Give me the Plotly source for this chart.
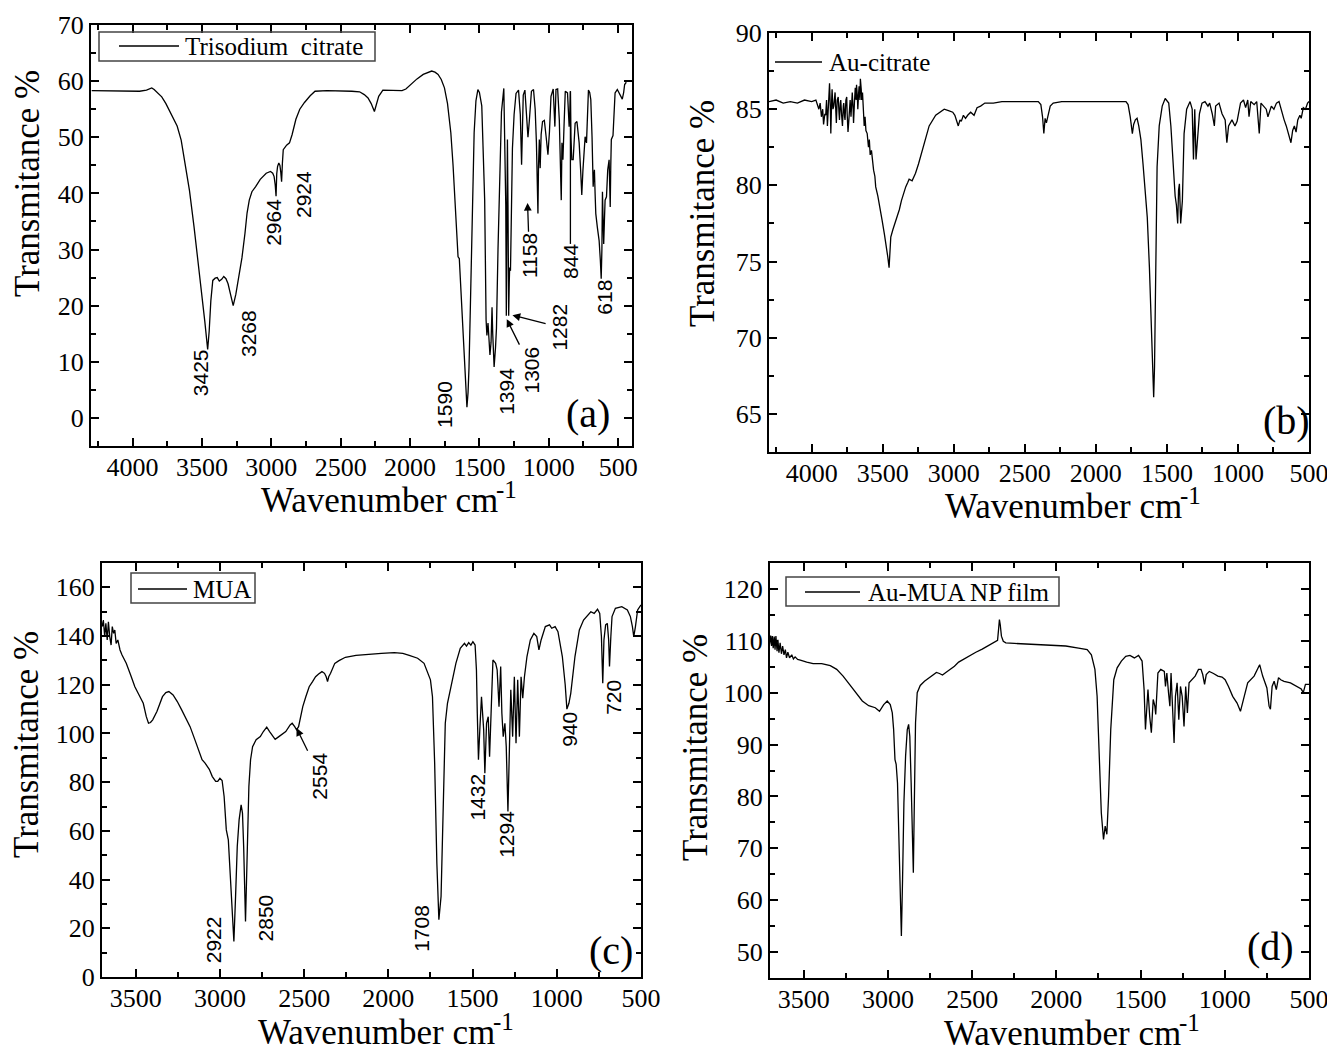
import plotly.graph_objects as go

# ---------------- data ----------------
# (a) trisodium citrate
wn_a = [4295, 4200, 4100, 4000, 3950, 3900, 3875, 3862, 3845, 3830, 3790, 3760, 3740, 3700, 3679, 3650, 3618, 3590,
        3557, 3530, 3511, 3480, 3459, 3448, 3436, 3422, 3405, 3390, 3375, 3358, 3343, 3327, 3312, 3292, 3275, 3256,
        3237, 3212, 3190, 3175, 3159, 3140, 3113, 3080, 3037, 3006, 2990, 2980, 2972, 2966, 2961, 2955, 2946, 2938,
        2932, 2926, 2920, 2914, 2890, 2869, 2850, 2823, 2795, 2761, 2720, 2685, 2600, 2500, 2420, 2364, 2330, 2303,
        2280, 2257, 2245, 2226, 2196, 2120, 2058, 2030, 1997, 1950, 1905, 1870, 1844, 1820, 1798, 1775, 1752, 1730,
        1706, 1690, 1676, 1665, 1654, 1645, 1630, 1618, 1609, 1598, 1590, 1582, 1575, 1565, 1554, 1545, 1538, 1525,
        1511, 1500, 1483, 1474, 1462, 1452, 1446, 1438, 1424, 1416, 1409, 1404, 1394, 1384, 1377, 1366, 1356, 1341,
        1324, 1316, 1310, 1306, 1302, 1298, 1294, 1289, 1285, 1282, 1276, 1270, 1262, 1250, 1236, 1218, 1205, 1196,
        1190, 1184, 1172, 1160, 1150, 1140, 1125, 1110, 1098, 1089, 1082, 1078, 1074, 1068, 1062, 1055, 1045, 1032,
        1019, 1006, 995, 984, 968, 956, 948, 936, 924, 914, 910, 905, 898, 890, 881, 865, 853, 848, 844, 840, 834,
        824, 816, 810, 797, 787, 781, 770, 762, 754, 745, 738, 728, 720, 714, 705, 697, 688, 680, 676, 671, 666,
        661, 650, 637, 628, 622, 617, 613, 608, 604, 599, 594, 584, 575, 565, 560, 557, 553, 549, 537, 530, 522,
        506, 495, 486, 478, 470, 460, 453, 441]
tr_a = [58.3, 58.3, 58.2, 58.3, 58.2, 58.4, 58.6, 58.8, 58.5, 58.1, 57.2, 56.0, 55.0, 53.2, 52.0, 49.5, 44.8, 40.5,
        34.0, 28.5, 23.9, 17.3, 12.2, 15.5, 20.9, 24.5, 24.9, 25.0, 24.4, 24.7, 25.2, 24.8, 23.9, 21.5, 20.0, 22.0,
        24.5, 28.5, 32.9, 36.5, 38.8, 40.3, 41.2, 42.5, 43.6, 43.9, 43.6, 43.0, 41.5, 39.5, 43.5, 44.8, 45.4, 45.0,
        43.8, 42.1, 45.5, 47.8, 48.6, 49.0, 50.5, 53.2, 55.0, 56.2, 57.4, 58.2, 58.3, 58.3, 58.2, 58.1, 57.6, 57.0,
        56.0, 54.6, 55.5, 57.3, 58.4, 58.3, 58.3, 58.6, 59.4, 60.4, 61.2, 61.6, 61.8, 61.6, 61.2, 60.3, 58.8, 56.0,
        50.8, 45.0, 38.8, 33.0, 28.7, 28.4, 20.9, 14.0, 9.0, 4.0, 1.9, 4.5, 9.0, 20.0, 32.9, 43.0, 50.8, 56.5,
        58.5, 58.0, 55.6, 48.4, 38.8, 17.5, 14.7, 16.9, 11.2, 13.5, 19.7, 15.0, 9.1, 12.5, 16.0, 30.0, 40.0, 54.5,
        58.7, 50.0, 38.0, 18.2, 30.0, 49.6, 38.0, 18.2, 24.0, 26.8, 26.2, 38.0, 48.0, 54.0, 57.8, 58.4, 54.0, 45.1,
        52.0, 57.5, 58.4, 53.5, 50.0, 53.0, 58.2, 58.5, 55.0, 49.0, 40.0, 36.4, 44.8, 49.6, 44.5, 50.5, 52.8, 53.0,
        50.1, 46.9, 51.0, 57.3, 58.6, 51.9, 58.5, 58.6, 53.1, 45.0, 38.8, 49.0, 46.0, 52.0, 58.2, 57.9, 51.9, 54.5,
        58.2, 50.0, 46.0, 46.0, 49.0, 52.5, 52.8, 51.0, 49.0, 44.0, 39.7, 44.0, 49.0, 50.1, 49.0, 55.0, 58.4, 58.0,
        56.7, 50.0, 41.2, 43.0, 44.2, 40.0, 36.4, 34.0, 31.6, 28.0, 24.8, 30.0, 40.3, 35.0, 31.0, 35.0, 38.8, 39.4,
        44.2, 46.0, 42.0, 37.6, 45.0, 49.6, 50.3, 54.0, 57.9, 58.5, 58.0, 57.6, 57.0, 56.8, 58.0, 59.4, 59.8]

# (b) Au-citrate
wn_b = [4300, 4250, 4200, 4150, 4100, 4050, 4000, 3970, 3949, 3940, 3931, 3922, 3916, 3907, 3901, 3895, 3889, 3880,
        3874, 3868, 3865, 3859, 3856, 3850, 3844, 3838, 3835, 3829, 3826, 3820, 3813, 3807, 3804, 3798, 3795, 3789,
        3783, 3777, 3774, 3768, 3765, 3759, 3753, 3750, 3744, 3738, 3735, 3729, 3723, 3717, 3714, 3708, 3705, 3699,
        3693, 3687, 3684, 3678, 3675, 3669, 3666, 3660, 3657, 3651, 3648, 3642, 3639, 3633, 3630, 3624, 3618, 3609,
        3600, 3594, 3588, 3579, 3570, 3564, 3555, 3549, 3534, 3519, 3504, 3488, 3473, 3464, 3455, 3449, 3443, 3428,
        3413, 3398, 3383, 3368, 3353, 3338, 3323, 3314, 3293, 3269, 3248, 3233, 3203, 3173, 3127, 3097, 3067, 3037,
        3007, 2992, 2977, 2968, 2956, 2947, 2932, 2917, 2902, 2881, 2857, 2836, 2811, 2781, 2721, 2661, 2571, 2480,
        2405, 2387, 2375, 2366, 2357, 2348, 2336, 2321, 2300, 2240, 2119, 1999, 1879, 1788, 1773, 1758, 1743, 1734,
        1722, 1710, 1698, 1683, 1668, 1653, 1638, 1623, 1608, 1599, 1593, 1587, 1581, 1575, 1569, 1554, 1533, 1512,
        1487, 1472, 1457, 1442, 1433, 1424, 1418, 1412, 1403, 1391, 1379, 1361, 1337, 1322, 1313, 1304, 1295, 1283,
        1271, 1253, 1232, 1211, 1199, 1181, 1166, 1157, 1133, 1112, 1090, 1078, 1066, 1042, 1021, 1006, 982, 961,
        946, 931, 922, 910, 886, 868, 850, 838, 820, 801, 789, 765, 747, 729, 711, 690, 675, 660, 645, 627, 615,
        603, 591, 579, 564, 555, 540, 525, 510, 500]
tr_b = [85.5, 85.6, 85.4, 85.5, 85.4, 85.6, 85.5, 85.6, 85.0, 85.4, 84.5, 85.0, 84.0, 84.7, 84.6, 85.6, 83.9, 85.2,
        86.7, 85.0, 83.4, 85.6, 86.3, 85.0, 85.2, 85.8, 86.1, 84.7, 84.1, 85.6, 85.8, 84.7, 84.3, 85.4, 85.6, 84.6,
        83.9, 85.2, 85.4, 84.5, 84.3, 85.6, 85.8, 84.7, 83.5, 84.3, 85.2, 85.6, 84.5, 85.4, 86.1, 85.0, 84.1, 85.4,
        86.4, 85.6, 86.6, 85.8, 85.0, 86.1, 86.5, 85.6, 87.0, 86.3, 85.6, 86.1, 85.2, 84.3, 83.9, 84.5, 83.6, 83.4,
        82.5, 83.0, 82.0, 82.3, 81.2, 81.0, 80.6, 79.9, 79.3, 78.6, 77.7, 76.8, 76.0, 75.3, 74.6, 75.5, 76.6, 77.1,
        77.5, 77.9, 78.4, 79.0, 79.5, 79.9, 80.2, 80.4, 80.3, 80.8, 81.4, 81.9, 83.0, 83.9, 84.6, 84.8, 85.0, 84.9,
        84.8, 84.6, 84.2, 83.9, 84.3, 84.2, 84.6, 84.4, 84.6, 84.8, 84.6, 85.1, 85.2, 85.4, 85.4, 85.5, 85.5, 85.5,
        85.5, 85.3, 84.5, 83.4, 84.4, 84.1, 84.6, 85.2, 85.4, 85.5, 85.5, 85.5, 85.5, 85.5, 85.3, 84.5, 83.4, 84.0,
        84.3, 84.4, 83.9, 83.0, 81.4, 79.9, 77.9, 74.6, 70.3, 67.6, 66.1, 68.1, 72.5, 77.3, 81.2, 83.9, 85.2, 85.7,
        85.4, 83.9, 81.2, 79.3, 78.7, 77.5, 79.7, 80.1, 77.5, 79.0, 83.4, 85.0, 85.5, 85.0, 81.7, 85.0, 81.7, 83.2,
        84.7, 85.4, 85.5, 85.2, 85.4, 84.7, 83.9, 85.2, 85.4, 84.7, 84.3, 82.8, 83.9, 84.3, 83.9, 84.2, 85.4, 85.6,
        85.1, 85.6, 84.5, 85.5, 85.3, 85.5, 83.4, 85.4, 85.2, 85.0, 84.5, 85.2, 85.0, 85.4, 85.5, 84.7, 84.3, 83.9,
        83.4, 82.8, 83.6, 83.9, 83.5, 84.3, 84.6, 84.4, 85.1, 85.0, 85.4, 85.5]

# (c) MUA
wn_c = [3699, 3692, 3684, 3677, 3669, 3662, 3654, 3646, 3639, 3631, 3624, 3616, 3606, 3593, 3581, 3556, 3530, 3505,
        3480, 3455, 3437, 3424, 3412, 3399, 3374, 3341, 3321, 3303, 3278, 3253, 3227, 3202, 3177, 3152, 3126, 3106,
        3088, 3063, 3045, 3025, 3013, 3000, 2987, 2975, 2962, 2950, 2937, 2927, 2917, 2907, 2897, 2886, 2874, 2866,
        2859, 2848, 2838, 2828, 2818, 2806, 2785, 2760, 2742, 2722, 2705, 2684, 2672, 2654, 2634, 2609, 2583, 2571,
        2556, 2545, 2533, 2520, 2508, 2490, 2470, 2450, 2432, 2414, 2394, 2379, 2369, 2361, 2354, 2343, 2331, 2318,
        2293, 2255, 2192, 2116, 2041, 1965, 1914, 1876, 1826, 1788, 1763, 1750, 1738, 1725, 1712, 1700, 1687, 1674,
        1662, 1649, 1624, 1599, 1573, 1548, 1536, 1523, 1510, 1498, 1485, 1477, 1472, 1465, 1457, 1447, 1434, 1427,
        1417, 1407, 1399, 1391, 1379, 1363, 1354, 1343, 1333, 1326, 1318, 1308, 1300, 1290, 1283, 1273, 1262, 1252,
        1242, 1232, 1222, 1212, 1202, 1192, 1177, 1157, 1136, 1119, 1106, 1093, 1068, 1043, 1030, 1010, 993, 967,
        950, 940, 928, 917, 892, 866, 841, 816, 798, 778, 758, 745, 735, 727, 720, 710, 700, 692, 687, 679, 672,
        652, 614, 581, 563, 551, 543, 533, 520, 500]
tr_c = [143.9, 146.6, 139.8, 145.2, 138.4, 145.9, 139.8, 136.3, 143.9, 141.1, 142.5, 137.0, 138.4, 134.3, 132.2,
        128.8, 124.0, 119.2, 115.8, 112.4, 106.9, 104.2, 104.5, 105.6, 109.0, 115.1, 116.8, 117.2, 115.8, 113.1,
        109.7, 106.3, 102.8, 98.1, 93.3, 89.2, 87.8, 85.3, 82.3, 80.3, 80.3, 81.6, 80.7, 74.1, 60.4, 56.3, 39.9,
        24.9, 14.6, 33.1, 53.6, 64.5, 70.7, 67.3, 53.6, 22.8, 53.6, 78.2, 89.2, 94.6, 97.4, 98.7, 100.8, 102.6,
        100.8, 98.5, 97.6, 98.5, 99.4, 100.8, 103.5, 104.2, 102.8, 101.5, 102.8, 107.6, 111.0, 115.1, 119.2, 121.3,
        123.3, 124.4, 125.4, 124.7, 123.3, 121.3, 123.3, 124.7, 126.8, 128.8, 129.9, 131.3, 132.1, 132.6, 132.9,
        133.2, 132.9, 132.1, 130.9, 128.8, 124.7, 122.0, 115.1, 87.8, 46.8, 23.5, 33.1, 74.1, 104.2, 112.4, 120.6,
        128.8, 135.0, 137.0, 135.9, 137.3, 136.3, 137.7, 136.3, 126.1, 108.3, 89.2, 101.5, 115.1, 101.5, 83.7,
        104.2, 106.9, 90.5, 108.3, 130.2, 128.8, 126.1, 111.0, 127.5, 108.3, 98.7, 104.2, 94.6, 68.0, 94.6, 117.9,
        98.7, 123.3, 96.0, 122.0, 98.7, 123.3, 114.5, 123.3, 131.6, 138.4, 141.1, 139.8, 134.3, 138.4, 143.9, 144.6,
        143.2, 143.9, 141.8, 131.6, 120.0, 110.0, 112.4, 116.5, 131.6, 142.5, 146.6, 148.7, 150.0, 149.3, 151.0,
        149.3, 139.8, 120.6, 138.4, 144.6, 145.2, 138.4, 127.5, 139.8, 148.0, 151.4, 152.1, 150.7, 148.0, 143.9,
        139.8, 143.9, 150.7, 152.8]

# (d) Au-MUA NP film
wn_d = [3703, 3696, 3691, 3686, 3681, 3675, 3670, 3665, 3658, 3653, 3647, 3640, 3632, 3625, 3617, 3609, 3602, 3594,
        3584, 3571, 3561, 3551, 3536, 3520, 3482, 3444, 3393, 3342, 3304, 3266, 3228, 3190, 3152, 3114, 3075, 3050,
        3025, 3004, 2986, 2974, 2966, 2958, 2951, 2943, 2936, 2928, 2920, 2913, 2905, 2895, 2885, 2877, 2870, 2862,
        2854, 2849, 2844, 2836, 2826, 2808, 2783, 2745, 2712, 2694, 2676, 2656, 2630, 2605, 2580, 2549, 2516, 2478,
        2440, 2402, 2364, 2349, 2343, 2338, 2333, 2326, 2315, 2300, 2249, 2147, 2046, 1944, 1868, 1817, 1792, 1771,
        1758, 1746, 1733, 1720, 1710, 1700, 1690, 1677, 1659, 1639, 1614, 1588, 1563, 1537, 1512, 1491, 1479, 1471,
        1463, 1456, 1446, 1436, 1425, 1415, 1410, 1397, 1380, 1359, 1352, 1344, 1334, 1326, 1319, 1311, 1301, 1293,
        1283, 1273, 1263, 1253, 1242, 1232, 1222, 1212, 1197, 1176, 1156, 1141, 1131, 1120, 1110, 1092, 1067, 1041,
        1016, 998, 978, 953, 927, 907, 889, 864, 826, 800, 793, 775, 750, 737, 729, 719, 707, 694, 681, 668, 648,
        610, 572, 546, 534, 521, 500]
tr_d = [109.3, 111.0, 109.0, 110.9, 108.6, 110.8, 108.3, 110.9, 108.0, 110.2, 107.7, 109.6, 107.5, 109.0, 107.3,
        108.3, 106.7, 107.8, 106.7, 107.3, 106.5, 106.9, 106.4, 106.3, 105.9, 105.6, 105.6, 105.2, 104.5, 103.2,
        101.6, 100.0, 98.4, 97.5, 97.1, 96.4, 97.7, 98.4, 97.7, 96.1, 92.9, 87.1, 86.2, 82.6, 73.6, 62.1, 53.1,
        64.0, 78.8, 87.8, 92.9, 93.9, 91.6, 82.6, 69.8, 65.3, 76.8, 94.2, 100.0, 101.4, 102.2, 103.2, 103.9, 103.7,
        103.4, 103.9, 104.5, 105.1, 105.9, 106.5, 107.2, 107.8, 108.4, 109.1, 109.7, 110.1, 112.2, 114.1, 113.1,
        110.9, 109.9, 109.6, 109.5, 109.3, 109.2, 109.0, 108.6, 108.3, 107.3, 104.5, 99.3, 89.7, 76.8, 71.7, 74.3,
        72.7, 80.0, 92.9, 102.5, 104.8, 106.1, 107.0, 107.2, 106.7, 107.2, 106.1, 100.6, 92.9, 96.8, 100.6, 95.5,
        92.3, 98.7, 97.4, 95.8, 103.8, 104.5, 104.1, 101.2, 103.8, 100.0, 97.4, 103.8, 98.0, 90.3, 99.3, 101.9,
        94.8, 101.2, 99.3, 93.5, 101.2, 96.1, 101.9, 102.5, 103.2, 104.5, 104.5, 103.5, 101.6, 103.5, 104.1, 103.7,
        103.2, 103.0, 102.5, 101.2, 99.3, 98.0, 96.4, 98.7, 101.9, 103.2, 105.1, 105.4, 103.2, 100.9, 97.4, 96.8,
        101.2, 102.2, 100.6, 102.9, 102.5, 102.2, 101.9, 101.2, 100.7, 100.0, 101.6, 101.6]

names = ["Trisodium  citrate", "Au-citrate", "MUA", "Au-MUA NP film"]
panel_tags = ["(a)", "(b)", "(c)", "(d)"]
peaks_a = ["3425", "3268", "2964", "2924", "1590", "1394", "1306", "1282", "1158", "844", "618"]
peaks_c = ["2922", "2850", "2554", "1708", "1432", "1294", "940", "720"]

# ---------------- layout ----------------
W, H = 1327, 1055
SERIF = "Liberation Serif, Times New Roman, serif"
SANS = "Liberation Sans, Arial, sans-serif"


def px(x):
    return x / W


def py(y):
    return 1 - y / H


# plot frames in pixels: left, right, top, bottom
boxes = [(91, 632, 25, 446), (769, 1309, 33, 452), (102, 641, 563, 977), (770, 1309, 563, 978)]
xranges = [[4300, 400], [4300, 500], [3700, 500], [3700, 500]]
yranges = [[-5, 70], [62.5, 90], [0, 170], [45, 125]]
ydticks = [10, 5, 20, 10]

fig = go.Figure()
series = [(wn_a, tr_a), (wn_b, tr_b), (wn_c, tr_c), (wn_d, tr_d)]
for i, (wn, tr) in enumerate(series):
    sfx = "" if i == 0 else str(i + 1)
    fig.add_trace(go.Scatter(x=wn, y=tr, mode="lines", name=names[i],
                             line=dict(color="black", width=1.3),
                             xaxis="x" + sfx, yaxis="y" + sfx, showlegend=False))

layout = dict(width=W, height=H, margin=dict(l=0, r=0, t=0, b=0),
              paper_bgcolor="white", plot_bgcolor="white", showlegend=False, hovermode=False,
              font=dict(family=SERIF, color="black"))

for i, (l, r, t, b) in enumerate(boxes):
    sfx = "" if i == 0 else str(i + 1)
    common = dict(showline=True, linewidth=2, linecolor="black", mirror="ticks",
                  ticks="inside", ticklen=8, tickwidth=2, tickcolor="black",
                  showgrid=False, zeroline=False, automargin=False, ticklabeloverflow="allow",
                  tickfont=dict(family=SERIF, size=26, color="black"))
    layout["xaxis" + sfx] = dict(common, domain=[px(l), px(r)], range=xranges[i], anchor="y" + sfx,
                                 dtick=500, tick0=0, ticklabelstandoff=-3,
                                 minor=dict(ticks="inside", ticklen=5, tickwidth=1.5,
                                            tickcolor="black", dtick=250, showgrid=False))
    layout["yaxis" + sfx] = dict(common, domain=[py(b), py(t)], range=yranges[i], anchor="x" + sfx,
                                 dtick=ydticks[i], tick0=0,
                                 minor=dict(ticks="inside", ticklen=5, tickwidth=1.5,
                                            tickcolor="black", dtick=ydticks[i] / 2, showgrid=False))

fig.update_layout(**layout)

# axis titles; the "-1" exponent is set as its own smaller raised text
xt_pos = [(391, 500), (1075, 507), (388, 1032), (1074, 1033)]
yt_pos = [(27, 184), (703, 214), (26, 745), (695, 748)]
for (xx, xy), (yx, yy) in zip(xt_pos, yt_pos):
    fig.add_annotation(text="Wavenumber cm", xref="paper", yref="paper", x=px(xx + 108), y=py(xy),
                       showarrow=False, xanchor="right", yanchor="middle", borderpad=0,
                       font=dict(family=SERIF, size=35, color="black"))
    fig.add_annotation(text="-1", xref="paper", yref="paper", x=px(xx + 104), y=py(xy - 11),
                       showarrow=False, xanchor="left", yanchor="middle", borderpad=0,
                       font=dict(family=SERIF, size=25, color="black"))
    fig.add_annotation(text="Transmitance %", xref="paper", yref="paper", x=px(yx), y=py(yy),
                       showarrow=False, textangle=-90, xanchor="center", yanchor="middle",
                       font=dict(family=SERIF, size=35, color="black"))

# legends, drawn by hand: box (or None), sample line x0, x1, y, text x
legends = [((99, 32, 375, 61), 119, 179, 46, 183),
           (None, 775, 822, 62, 827),
           ((131, 573, 255, 603), 138, 187, 589, 191),
           ((786, 577, 1059, 606), 805, 860, 592, 866)]
for name, (bx, lx0, lx1, ly, tx) in zip(names, legends):
    if bx:
        fig.add_shape(type="rect", xref="paper", yref="paper", x0=px(bx[0]), x1=px(bx[2]),
                      y0=py(bx[3]), y1=py(bx[1]), line=dict(color="#444444", width=1.5))
    fig.add_shape(type="line", xref="paper", yref="paper", x0=px(lx0), x1=px(lx1),
                  y0=py(ly), y1=py(ly), line=dict(color="black", width=1.3))
    fig.add_annotation(text=name, xref="paper", yref="paper", x=px(tx), y=py(ly), showarrow=False,
                       xanchor="left", yanchor="middle", font=dict(family=SERIF, size=25, color="black"))

# panel tags (a)-(d)
tag_pos = [(0.919, 0.078), (0.959, 0.076), (0.944, 0.063), (0.928, 0.075)]
for i, (tx, ty) in enumerate(tag_pos):
    sfx = "" if i == 0 else str(i + 1)
    fig.add_annotation(text=panel_tags[i], xref="x" + sfx + " domain", yref="y" + sfx + " domain",
                       x=tx, y=ty, showarrow=False, xanchor="center", yanchor="middle",
                       font=dict(family=SERIF, size=40, color="black"))

# peak labels (rotated); labels with arrows point at (hx, hy)
pos_a = [(3513, 8.0), (3166, 15.0), (2986, 34.8), (2768, 39.8), (1752, 2.4), (1302, 4.8),
         (1122, 8.6), (929, 16.2), (1140, 28.9), (839, 27.8), (595, 21.6)]
arrow_a = {"1306": (1303, 17.6), "1282": (1262, 18.3), "1158": (1153, 38.3)}
pos_c = [(3038, 15.3), (2730, 24.2), (2407, 82.6), (1800, 19.8), (1472, 73.8), (1295, 58.4),
         (929, 101.8), (664, 114.8)]
arrow_c = {"2554": (2545, 102.2)}
for labels, pos, arrows, s in [(peaks_a, pos_a, arrow_a, ""), (peaks_c, pos_c, arrow_c, "3")]:
    for lbl, (lx, ly) in zip(labels, pos):
        font = dict(family=SANS, size=21, color="black")
        if lbl in arrows:
            hx, hy = arrows[lbl]
            fig.add_annotation(text=lbl, x=hx, y=hy, ax=lx, ay=ly, xref="x" + s, yref="y" + s,
                               axref="x" + s, ayref="y" + s, showarrow=True, textangle=-90,
                               arrowhead=2, arrowsize=1.2, arrowwidth=1.3, arrowcolor="black", font=font)
        else:
            fig.add_annotation(text=lbl, x=lx, y=ly, xref="x" + s, yref="y" + s, showarrow=False,
                               textangle=-90, xanchor="center", yanchor="middle", font=font)

# leader line for 844
fig.add_shape(type="line", x0=844, x1=844, y0=31.0, y1=58.2, xref="x", yref="y",
              line=dict(color="black", width=1.3))

fig.write_html("out.html", config={"displayModeBar": False},
               post_script="document.body.style.margin='0';")
